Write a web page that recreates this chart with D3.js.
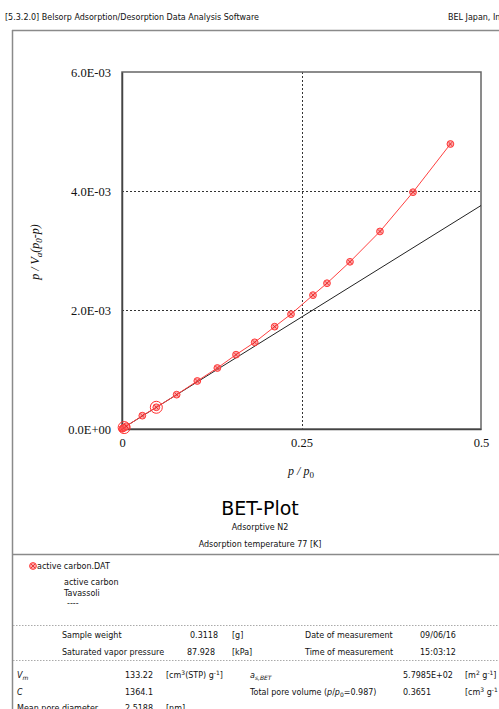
<!DOCTYPE html>
<html>
<head>
<meta charset="utf-8">
<script src="https://cdn.jsdelivr.net/npm/d3@7"></script>
<style>
  body { margin: 0; background: #fff; }
  svg { display: block; }
  .ui { font-family: "DejaVu Sans", sans-serif; font-size: 8px; fill: #111; }
  .tick text { font-family: "Liberation Serif", serif; font-size: 12.5px; fill: #111; }
</style>
</head>
<body>
<div id="chart"></div>
<script>
// relative pressure p/p0 and BET function p/(Va(p0-p))
var relPressure = [0.0005, 0.0015, 0.003, 0.006, 0.0283, 0.0478, 0.0761, 0.1049, 0.1328, 0.1588,
    0.1848, 0.2126, 0.2354, 0.266, 0.2855, 0.3175, 0.3593, 0.4053, 0.4574];
var betValues = [0.000004, 0.000012, 0.000024, 0.000046, 0.000224, 0.000365, 0.000577, 0.000807, 0.001025, 0.001249,
    0.001457, 0.00172, 0.00193, 0.00225, 0.00245, 0.00281, 0.00332, 0.00398, 0.00479];
// points used for the linear fit (drawn with big circles)
var fitPoints = [0.003, 0.0478];
// fitted BET line end points
var fitLineX = [0, 0.5];
var fitLineY = [0.0000055, 0.003756];

var xTicks = [0, 0.25, 0.5];
var yTicks = [0, 0.002, 0.004, 0.006];

var width = 499, height = 709;
var margin = { top: 72, right: 18, bottom: 280, left: 122 },
    w = 481 - margin.left,
    h = 429 - margin.top;

var svg = d3.select("#chart")
    .append("svg")
    .attr("width", width)
    .attr("height", height);

// header
svg.append("text").attr("class", "ui").attr("x", 5).attr("y", 20)
    .text("[5.3.2.0] Belsorp Adsorption/Desorption Data Analysis Software");
svg.append("text").attr("class", "ui").attr("x", 448).attr("y", 20)
    .text("BEL Japan, Inc.");

// page frame
svg.append("line").attr("x1", 12).attr("x2", width).attr("y1", 30.5).attr("y2", 30.5)
    .attr("stroke", "#8a8a8a").attr("stroke-width", 1.5);
svg.append("line").attr("x1", 12.5).attr("x2", 12.5).attr("y1", 30).attr("y2", height)
    .attr("stroke", "#8a8a8a").attr("stroke-width", 1.5);

var g = svg.append("g")
    .attr("transform", "translate(" + margin.left + "," + margin.top + ")");

var x = d3.scaleLinear().domain([0, 0.5]).range([0, w]);
var y = d3.scaleLinear().domain([0, 0.006]).range([h, 0]);

// clip for data
g.append("clipPath").attr("id", "clip")
    .append("rect").attr("width", w).attr("height", h);

// dashed grid
g.selectAll(".hgrid")
    .data(yTicks.filter(d => d > 0 && d < 0.006))
    .enter().append("line")
    .attr("x1", 0).attr("x2", w)
    .attr("y1", d => Math.round(y(d)) + 0.5).attr("y2", d => Math.round(y(d)) + 0.5)
    .attr("stroke", "#333").attr("stroke-dasharray", "2,2");
g.selectAll(".vgrid")
    .data(xTicks.filter(d => d > 0 && d < 0.5))
    .enter().append("line")
    .attr("y1", 0).attr("y2", h)
    .attr("x1", d => Math.round(x(d)) + 0.5).attr("x2", d => Math.round(x(d)) + 0.5)
    .attr("stroke", "#333").attr("stroke-dasharray", "2,2");

// box
g.append("rect").attr("width", w).attr("height", h)
    .attr("fill", "none").attr("stroke", "#666").attr("stroke-width", 1.5);

// axes
g.append("g")
    .attr("transform", "translate(0," + h + ")")
    .call(d3.axisBottom(x).tickValues(xTicks).tickSize(0).tickPadding(9)
        .tickFormat(d => d === 0 ? "0" : String(d)))
    .call(a => a.select(".domain").attr("stroke", "#444").attr("stroke-width", 1.5));
g.append("g")
    .call(d3.axisLeft(y).tickValues(yTicks).tickSize(0).tickPadding(11)
        .tickFormat(d => d3.format(".1e")(d).replace("e-3", "E-03").replace("e+0", "E+00")))
    .call(a => a.select(".domain").attr("stroke", "#444").attr("stroke-width", 1.5));

// fitted line
g.append("line")
    .attr("clip-path", "url(#clip)")
    .attr("x1", x(fitLineX[0])).attr("y1", y(fitLineY[0]))
    .attr("x2", x(fitLineX[1])).attr("y2", y(fitLineY[1]))
    .attr("stroke", "#222").attr("stroke-width", 1);

// data line
var data = relPressure.map((p, i) => ({ p: p, v: betValues[i] }));
g.append("path")
    .datum(data)
    .attr("fill", "none")
    .attr("stroke", "#ff4040")
    .attr("stroke-width", 1)
    .attr("d", d3.line().x(d => x(d.p)).y(d => y(d.v)));

// markers
function marker(sel, r) {
    sel.append("circle").attr("r", r)
        .attr("fill", "#ff7070").attr("fill-opacity", 0.6)
        .attr("stroke", "#ff3a3a").attr("stroke-width", 1);
    var k = r * 0.6;
    sel.append("path")
        .attr("d", "M" + (-k) + "," + (-k) + "L" + k + "," + k + "M" + (-k) + "," + k + "L" + k + "," + (-k))
        .attr("stroke", "#e02020").attr("stroke-width", 0.8);
}
g.selectAll(".pt")
    .data(data)
    .enter().append("g")
    .attr("transform", d => "translate(" + x(d.p) + "," + y(d.v) + ")")
    .call(s => marker(s, 3.4));

g.selectAll(".fitpt")
    .data(data.filter(d => fitPoints.indexOf(d.p) >= 0))
    .enter().append("circle")
    .attr("cx", d => x(d.p)).attr("cy", d => y(d.v)).attr("r", 6)
    .attr("fill", "none").attr("stroke", "#ff3030").attr("stroke-width", 1);

// axis titles
var yl = svg.append("text")
    .attr("transform", "translate(39,252) rotate(-90)")
    .attr("text-anchor", "middle")
    .style("font-family", "Liberation Serif, serif").style("font-style", "italic")
    .style("font-size", "12px").attr("fill", "#111");
yl.append("tspan").text("p / V");
yl.append("tspan").attr("dy", 3).style("font-size", "9px").text("a");
yl.append("tspan").attr("dy", -3).text("(p");
yl.append("tspan").attr("dy", 3).style("font-size", "9px").text("0");
yl.append("tspan").attr("dy", -3).text("-p)");

var xl = svg.append("text")
    .attr("x", 301).attr("y", 475)
    .attr("text-anchor", "middle")
    .style("font-family", "Liberation Serif, serif").style("font-style", "italic")
    .style("font-size", "12px").attr("fill", "#111");
xl.append("tspan").text("p / p");
xl.append("tspan").attr("dy", 3).style("font-size", "9px").style("font-style", "normal").text("0");

// title block
svg.append("text").attr("x", 260).attr("y", 515).attr("text-anchor", "middle")
    .style("font-family", "DejaVu Sans, sans-serif").style("font-size", "19px").attr("fill", "#000")
    .text("BET-Plot");
svg.append("text").attr("class", "ui").attr("x", 260).attr("y", 530).attr("text-anchor", "middle")
    .text("Adsorptive N2");
svg.append("text").attr("class", "ui").attr("x", 260).attr("y", 547).attr("text-anchor", "middle")
    .text("Adsorption temperature 77 [K]");

svg.append("line").attr("x1", 12).attr("x2", width).attr("y1", 554.5).attr("y2", 554.5)
    .attr("stroke", "#8a8a8a").attr("stroke-width", 1.5);

// legend
var lg = svg.append("g").attr("transform", "translate(33,566)");
marker(lg, 3.4);
svg.append("text").attr("class", "ui").attr("x", 37).attr("y", 569).text("active carbon.DAT");
svg.append("text").attr("class", "ui").attr("x", 64).attr("y", 585).text("active carbon");
svg.append("text").attr("class", "ui").attr("x", 64).attr("y", 596).text("Tavassoli");
svg.append("text").attr("class", "ui").attr("x", 67).attr("y", 606).text("----");

// info table
[625.5, 660.5].forEach(function (yy) {
    svg.append("line").attr("x1", 13).attr("x2", width).attr("y1", yy).attr("y2", yy)
        .attr("stroke", "#aaa").attr("stroke-dasharray", "1.5,1.5");
});

var infoRows = [
    [62, 638, "Sample weight"], [190, 638, "0.3118"], [232, 638, "[g]"],
    [305, 638, "Date of measurement"], [420, 638, "09/06/16"],
    [62, 655, "Saturated vapor pressure"], [187, 655, "87.928"], [232, 655, "[kPa]"],
    [305, 655, "Time of measurement"], [420, 655, "15:03:12"],
    [125, 678, "133.22"], [403, 678, "5.7985E+02"],
    [125, 695, "1364.1"], [403, 695, "0.3651"],
    [17, 711, "Mean pore diameter"], [125, 711, "2.5188"], [166, 711, "[nm]"]
];
svg.selectAll(".info")
    .data(infoRows)
    .enter().append("text")
    .attr("class", "ui")
    .attr("x", d => d[0]).attr("y", d => d[1])
    .text(d => d[2]);

function richText(xx, yy, parts) {
    var t = svg.append("text").attr("class", "ui").attr("x", xx).attr("y", yy);
    parts.forEach(function (p) {
        var s = t.append("tspan").text(p.t);
        if (p.it) s.style("font-style", "italic");
        if (p.sup) s.attr("dy", -3).style("font-size", "6px");
        if (p.sub) s.attr("dy", 2).style("font-size", "6px");
        if (p.back) s.attr("dy", p.back);
    });
    return t;
}
richText(17, 678, [{ t: "V", it: true }, { t: "m", it: true, sub: true }]);
richText(166, 678, [{ t: "[cm" }, { t: "3", sup: true }, { t: "(STP) g", back: 3 }, { t: "-1", sup: true }, { t: "]", back: 3 }]);
richText(250, 678, [{ t: "a", it: true }, { t: "s,BET", it: true, sub: true }]);
richText(465, 678, [{ t: "[m" }, { t: "2", sup: true }, { t: " g", back: 3 }, { t: "-1", sup: true }, { t: "]", back: 3 }]);
richText(17, 695, [{ t: "C", it: true }]);
richText(250, 695, [{ t: "Total pore volume (" }, { t: "p", it: true }, { t: "/" }, { t: "p", it: true },
    { t: "0", sub: true }, { t: "=0.987)", back: -2 }]);
richText(465, 695, [{ t: "[cm" }, { t: "3", sup: true }, { t: " g", back: 3 }, { t: "-1", sup: true }]);
</script>
</body>
</html>
